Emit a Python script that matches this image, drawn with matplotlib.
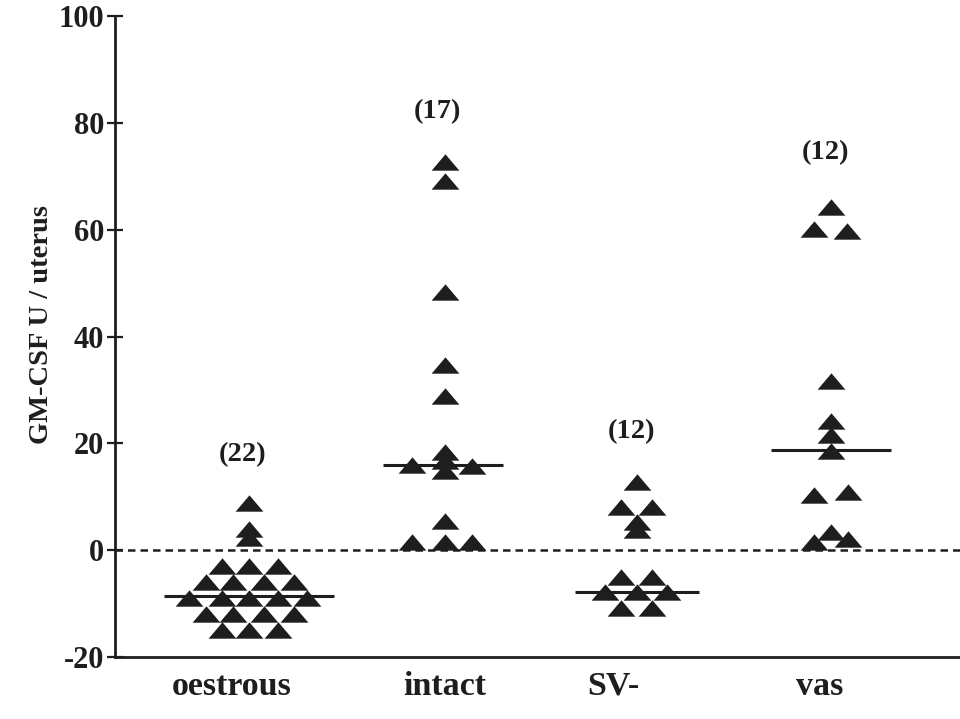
import matplotlib
matplotlib.use("Agg")
import matplotlib.pyplot as plt
import numpy as np

# ---------------- data ----------------
categories = ["oestrous", "intact", "SV-", "vas"]
n_labels = ["(22)", "(17)", "(12)", "(12)"]
n_label_y = [17.9, 82.1, 22.2, 74.4]

oestrous_vals = [8.8, 4.0, 2.2,
                 -2.9, -2.9, -2.9,
                 -6.0, -6.0, -6.0, -6.0,
                 -9.0, -9.0, -9.0, -9.0, -9.0,
                 -11.9, -11.9, -11.9, -11.9,
                 -14.9, -14.9, -14.9]
oestrous_dx = [0, 0, 0,
               -0.14, 0, 0.15,
               -0.22, -0.08, 0.08, 0.23,
               -0.31, -0.14, 0, 0.15, 0.30,
               -0.22, -0.08, 0.08, 0.23,
               -0.14, 0, 0.15]

intact_vals = [72.6, 69.1, 48.4, 34.7, 28.8, 18.3, 16.6, 14.8, 15.9, 15.8, 5.5, 1.6, 1.6, 1.6]
intact_dx = [0.01, 0.01, 0.01, 0.01, 0.01, 0.01, 0.01, 0.01, -0.16, 0.15, 0.01, -0.16, 0.01, 0.15]

sv_vals = [12.8, 8.0, 8.0, 5.3, 3.8, -5.0, -5.0, -7.9, -7.9, -7.9, -10.8, -10.8]
sv_dx = [0, -0.08, 0.08, 0, 0, -0.08, 0.08, -0.165, 0, 0.155, -0.08, 0.08]

vas_vals = [64.2, 60.2, 59.7, 31.7, 24.2, 21.6, 18.6, 10.4, 10.9, 3.4, 1.6, 2.0]
vas_dx = [0, -0.09, 0.085, 0, 0, 0, 0, -0.085, 0.09, 0, -0.085, 0.09]

medians = [-8.5, 16.0, -7.8, 18.8]

groups_vals = [oestrous_vals, intact_vals, sv_vals, vas_vals]
groups_dx = [oestrous_dx, intact_dx, sv_dx, vas_dx]

# ---------------- layout / style ----------------
median_half = [0.44, 0.31, 0.32, 0.31]
label_shift = [-0.09, 0.01, -0.12, -0.06]
ink = "#1e1e1e"

plt.rcParams["font.family"] = ["Liberation Serif", "DejaVu Serif"]
plt.rcParams["font.weight"] = "bold"
plt.rcParams["axes.unicode_minus"] = False

fig = plt.figure(figsize=(9.6, 7.19), dpi=100)
ax = fig.add_axes([115 / 960, 62 / 719, 845 / 960, 641 / 719])

tri = [(-1, -0.59), (1, -0.59), (0, 0.59), (-1, -0.59)]

for i, (vals, dx) in enumerate(zip(groups_vals, groups_dx)):
    xs = i + np.asarray(dx)
    ax.plot(xs, vals, linestyle="none", marker=tri, markersize=20,
            color=ink, markeredgewidth=0, zorder=3)
    ax.plot([i - median_half[i], i + median_half[i]], [medians[i], medians[i]],
            color=ink, lw=2.2, zorder=4, solid_capstyle="butt")
    ax.text(i - 0.03, n_label_y[i], n_labels[i], ha="center", va="center",
            fontsize=20.5, fontweight="bold", color=ink)

ax.axhline(0, color=ink, lw=1.8, linestyle=(0, (3, 2)), zorder=2)

ax.set_xlim(-0.69, 3.665)
ax.set_ylim(-20, 100)
ax.set_yticks([-20, 0, 20, 40, 60, 80, 100])
ax.set_xticks([i + s for i, s in enumerate(label_shift)])
ax.set_xticklabels(categories)

for s in ["top", "right"]:
    ax.spines[s].set_visible(False)
for s in ["left", "bottom"]:
    ax.spines[s].set_linewidth(2)
    ax.spines[s].set_color(ink)

ax.tick_params(axis="y", direction="inout", length=12, width=1.6, color=ink,
               labelsize=22, labelcolor=ink, pad=2)
ax.tick_params(axis="x", length=0, labelsize=24.5, labelcolor=ink, pad=10)
for lab in ax.get_yticklabels() + ax.get_xticklabels():
    lab.set_fontweight("bold")

fig.text(42 / 960, 1 - 325 / 719, "GM-CSF U / uterus", rotation=90,
         ha="center", va="center", fontsize=20.5, fontweight="bold", color=ink)

fig.savefig("out.png", dpi=100)
